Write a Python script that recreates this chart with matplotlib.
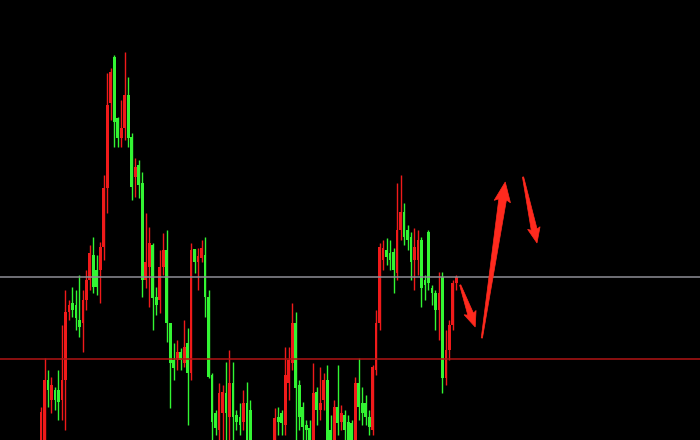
import matplotlib
matplotlib.use('Agg')
import matplotlib.pyplot as plt
from matplotlib.patches import Polygon
import numpy as np

# candle values (price = height above the bottom edge)
opens = [-10, -5, 60, 40, 50, 50, 40, 60, 128, 137,
         135, 120, 117, 140, 160, 185, 170, 170, 193, 252,
         337, 383, 322, 302, 312, 345, 303, 263, 275, 257,
         160, 173, 195, 143, 140, 173, 190, 117, 80, 80,
         88, 77, 97, 67, 191, 178, 182, 185, 143, 65,
         27, 10, 27, 47, 23, 57, 25, 23, 18, 37,
         30, -20, -25, -15, -30, -20, -25, -5, 23, 27,
         15, 57, 77, 117, 55, 33, 15, 12, -5, 48,
         30, 40, 60, 10, -3, 33, 18, 25, 18, 17,
         -3, 57, 37, 37, 23, 10, 70, 117, 180, 190,
         187, 188, 167, 210, 228, 210, 203, 180, 180, 200,
         160, 208, 152, 147, 130, 163, 62, 90, 115, 157]
closes = [28, 60, 50, 55, 40, 38, 60, 128, 135, 130,
          122, 113, 140, 160, 187, 153, 153, 193, 252, 335,
          368, 318, 302, 312, 345, 302, 253, 273, 255, 160,
          178, 197, 142, 135, 173, 190, 117, 77, 72, 88,
          80, 93, 67, 190, 178, 184, 192, 143, 63, 18,
          12, 47, 48, 27, 57, 23, 18, 15, 37, 0,
          -5, -25, -15, -30, -20, -25, -10, 22, 18, 17,
          65, 80, 117, 52, 23, 13, 10, -5, 47, 30,
          37, 60, -5, 0, 33, 17, 27, 10, 0, -2,
          57, 33, 27, 23, 13, 73, 117, 193, 192, 183,
          180, 170, 210, 228, 203, 200, 178, 193, 200, 152,
          155, 157, 147, 130, 147, 62, 90, 115, 157, 163]
highs = [33, 82, 70, 63, 53, 70, 115, 150, 140, 153,
         150, 165, 150, 170, 195, 203, 185, 198, 265, 367,
         372, 385, 323, 340, 388, 363, 307, 282, 280, 268,
         227, 213, 197, 153, 190, 207, 210, 117, 97, 100,
         92, 120, 112, 197, 191, 192, 200, 203, 150, 67,
         30, 57, 55, 78, 90, 78, 30, 37, 50, 58,
         40, -10, -5, -8, -12, -10, -5, 32, 33, 30,
         93, 93, 137, 128, 60, 38, 20, 20, 77, 53,
         73, 67, 75, 25, 40, 75, 35, 30, 25, 20,
         63, 82, 53, 45, 30, 75, 130, 197, 200, 202,
         200, 192, 257, 265, 237, 215, 208, 212, 210, 203,
         165, 210, 155, 150, 168, 168, 110, 120, 160, 165]
lows = [-20, -10, 33, 27, 30, 20, 20, 10, 120, 123,
        110, 103, 88, 130, 150, 147, 145, 137, 180, 227,
        320, 293, 293, 293, 300, 293, 240, 243, 242, 143,
        152, 133, 110, 125, 127, 165, 98, 32, 60, 70,
        70, 73, 15, 60, 167, 150, 178, 123, 62, -10,
        5, 0, 0, -10, -10, -10, 10, 5, 10, -10,
        -15, -35, -30, -40, -40, -35, -35, -10, 5, 5,
        5, 40, 70, -10, 10, -5, 0, -15, -10, 15,
        20, 30, -15, -10, -10, 5, 10, 0, -10, -10,
        -10, 20, 15, 15, 5, 5, 65, 110, 170, 175,
        170, 147, 160, 200, 195, 190, 160, 150, 165, 133,
        140, 150, 135, 110, 100, 47, 55, 80, 110, 150]

grey_level = 163.5
red_level = 81.5

# hand-drawn arrows: tail (x, y), tip (x, y), size factor
arrow_tail_x = [120.1, 126.3, 138.1]
arrow_tail_y = [155, 102, 263]
arrow_tip_x = [124.4, 133.0, 142.1]
arrow_tip_y = [113, 258, 197]
arrow_size = [0.85, 1.1, 0.85]

UP = '#f01a1a'
DOWN = '#33f533'


def tapered_arrow(ax, tail, tip, s, color):
    # build the arrow in pixel space so it keeps its shape
    t = ax.transData.transform(tail)
    p = ax.transData.transform(tip)
    d = (p - t) / np.hypot(*(p - t))
    n = np.array([-d[1], d[0]])
    head_len, head_w, shaft_w = 16 * s, 15 * s, 7 * s
    b = p - d * head_len
    pts = [t + n * 0.6, b + n * shaft_w / 2, b - d * 2 * s + n * head_w / 2, p,
           b - d * 2 * s - n * head_w / 2, b - n * shaft_w / 2, t - n * 0.6]
    ax.add_patch(Polygon(pts, closed=True, transform=None, facecolor=color,
                         edgecolor=color, linewidth=0.5, zorder=5))


o = np.array(opens, dtype=float)
c = np.array(closes, dtype=float)
h = np.array(highs, dtype=float)
l = np.array(lows, dtype=float)
x = np.arange(len(o))
cols = np.where(c >= o, UP, DOWN)

fig = plt.figure(figsize=(7, 4.4), dpi=100, facecolor='black')
ax = fig.add_axes([0, 0, 1, 1])
ax.set_facecolor('black')
ax.set_xlim(-11.75, 188.8)
ax.set_ylim(0, 440)
ax.axis('off')

ax.vlines(x, l, h, colors=cols, linewidth=1.0, zorder=2)
ax.bar(x, np.abs(c - o) + 0.5, bottom=np.minimum(o, c), width=0.8,
       color=cols, linewidth=0, zorder=3)

ax.axhline(grey_level, color='#8e8e96', linewidth=1.1, zorder=4)
ax.axhline(red_level, color='#b01414', linewidth=1.1, zorder=4)

for i in range(len(arrow_size)):
    tapered_arrow(ax, (arrow_tail_x[i], arrow_tail_y[i]),
                  (arrow_tip_x[i], arrow_tip_y[i]), arrow_size[i], '#ff2a1e')

plt.savefig('out.png', dpi=100, facecolor='black')
